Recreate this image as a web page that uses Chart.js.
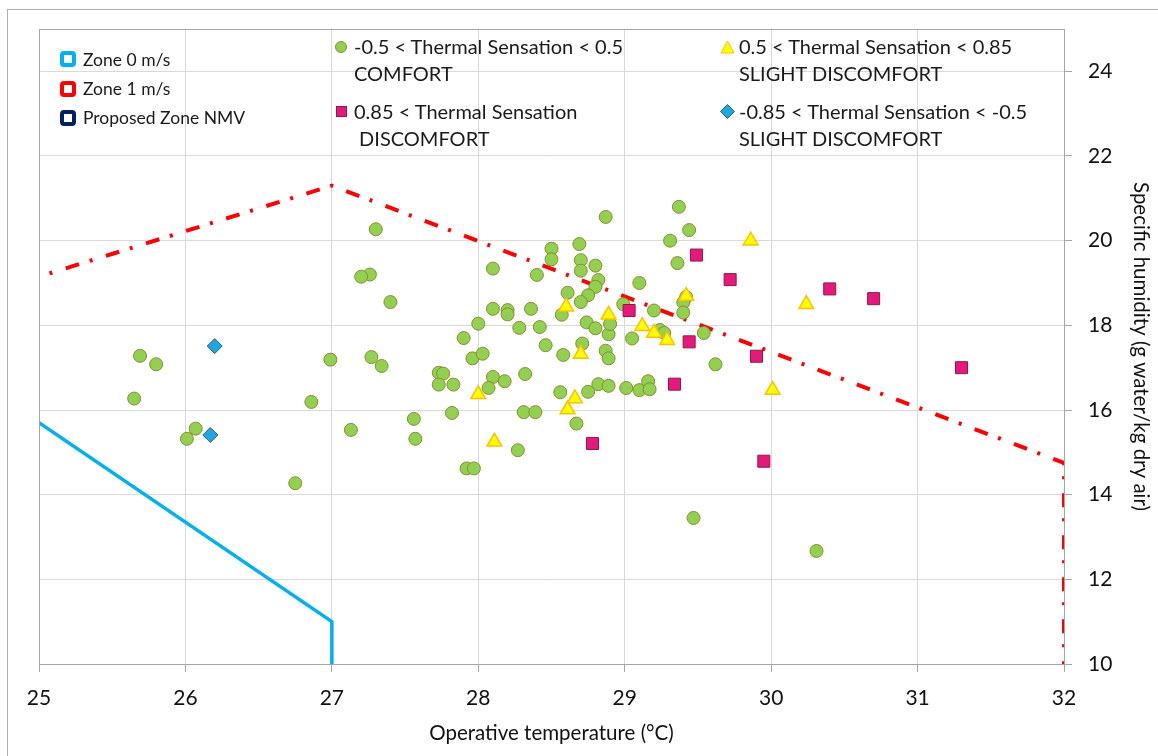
<!DOCTYPE html>
<html>
<head>
<meta charset="utf-8">
<script src="https://cdn.jsdelivr.net/npm/chart.js@4.4.0/dist/chart.umd.min.js"></script>
<style>
  html, body { margin: 0; padding: 0; background: #fff; }
  #wrap { position: relative; width: 1158px; height: 756px; overflow: hidden;
          font-family: Lato, "Open Sans", sans-serif; color: #1a1a1a; }
  #chart { position: absolute; left: 0; top: 0; }
  .lg { position: absolute; white-space: pre; line-height: 1.2; }
  .zone { font-size: 17.5px; }
  .ser { font-size: 20px; }
  .mk { position: absolute; }
</style>
</head>
<body>
<div id="wrap">
  <canvas id="chart" width="1158" height="756"></canvas>

  <!-- zone legend -->
  <svg class="mk" style="left:60px;top:51px" width="16" height="16"><rect x="2" y="2" width="12" height="12" rx="2" fill="#fff" stroke="#00B0F0" stroke-width="4"/></svg>
  <div class="lg zone" style="left:83px;top:49px">Zone 0 m/s</div>
  <svg class="mk" style="left:60px;top:81px" width="16" height="16"><rect x="2" y="2" width="12" height="12" rx="2" fill="#fff" stroke="#FF0000" stroke-width="4"/></svg>
  <div class="lg zone" style="left:83px;top:78px">Zone 1 m/s</div>
  <svg class="mk" style="left:60px;top:110px" width="16" height="16"><rect x="2" y="2" width="12" height="12" rx="2" fill="#fff" stroke="#002060" stroke-width="4"/></svg>
  <div class="lg zone" style="left:83px;top:107px">Proposed Zone NMV</div>

  <!-- thermal sensation legend -->
  <svg class="mk" style="left:334px;top:40px" width="14" height="14"><circle cx="7" cy="7" r="5.5" fill="#92D050" stroke="#8A8B34" stroke-width="1"/></svg>
  <div class="lg ser" style="left:354px;top:34px">-0.5 &lt; Thermal Sensation &lt; 0.5</div>
  <div class="lg ser" style="left:354px;top:61px">COMFORT</div>
  <svg class="mk" style="left:336px;top:106px" width="12" height="12"><rect x="0.5" y="0.5" width="10" height="10" fill="#E6197A" stroke="#8B1A4A" stroke-width="1"/></svg>
  <div class="lg ser" style="left:354px;top:99px">0.85 &lt; Thermal Sensation</div>
  <div class="lg ser" style="left:354px;top:126px"> DISCOMFORT</div>

  <svg class="mk" style="left:720px;top:40px" width="15" height="14"><polygon points="7.5,1 14,13 1,13" fill="#FFFF00" stroke="#FFC000" stroke-width="1"/></svg>
  <div class="lg ser" style="left:739px;top:34px">0.5 &lt; Thermal Sensation &lt; 0.85</div>
  <div class="lg ser" style="left:739px;top:61px">SLIGHT DISCOMFORT</div>
  <svg class="mk" style="left:720px;top:104px" width="15" height="15"><polygon points="7.5,0.5 14.5,7.5 7.5,14.5 0.5,7.5" fill="#1CA8E0" stroke="#44546A" stroke-width="1"/></svg>
  <div class="lg ser" style="left:739px;top:99px">-0.85 &lt; Thermal Sensation &lt; -0.5</div>
  <div class="lg ser" style="left:739px;top:126px">SLIGHT DISCOMFORT</div>
</div>

<script>
// axis ticks
const xTickValues = [25, 26, 27, 28, 29, 30, 31, 32];
const yTickValues = [10, 12, 14, 16, 18, 20, 22, 24];

// comfort zone boundaries
const zone0X = [25, 27, 27];
const zone0Y = [15.7, 11.0, 10.0];
const zone1X = [25, 27, 32, 32];
const zone1Y = [19.15, 21.3, 14.75, 10.0];

// -0.5 < TS < 0.5  (comfort)
const comfortX = [27.30, 27.26, 27.20, 27.40, 25.69, 25.80, 25.65, 26.99, 27.27, 27.34,
  26.86, 26.07, 26.01, 27.13, 26.75, 28.87, 28.50, 28.50, 28.69, 28.70,
  28.70, 28.80, 28.10, 28.40, 28.82, 28.80, 28.75, 28.61, 28.70, 28.57,
  28.99, 29.10, 29.20, 28.10, 28.20, 28.20, 28.36, 28.00, 28.28, 28.42,
  28.74, 28.80, 28.89, 28.90, 27.90, 28.46, 28.71, 28.58, 28.87, 28.89,
  29.05, 27.96, 28.03, 27.73, 27.76, 27.73, 27.83, 28.10, 28.07, 28.18,
  28.32, 28.56, 28.75, 28.82, 28.89, 29.01, 29.10, 29.16, 29.17, 27.82,
  28.31, 28.39, 28.67, 27.56, 27.57, 28.27, 27.92, 27.97, 29.37, 29.44,
  29.31, 29.36, 29.42, 29.40, 29.40, 29.24, 29.27, 29.54, 29.62, 29.47, 30.31];
const comfortY = [20.27, 19.20, 19.15, 18.55, 17.28, 17.08, 16.27, 17.19, 17.25, 17.04,
  16.19, 15.56, 15.32, 15.53, 14.27, 20.56, 19.81, 19.56, 19.92, 19.54,
  19.29, 19.41, 19.34, 19.19, 19.07, 18.91, 18.71, 18.77, 18.55, 18.25,
  18.50, 19.00, 18.35, 18.39, 18.36, 18.26, 18.39, 18.04, 17.94, 17.96,
  18.07, 17.93, 17.79, 18.03, 17.70, 17.53, 17.57, 17.30, 17.40, 17.22,
  17.69, 17.22, 17.33, 16.88, 16.86, 16.60, 16.60, 16.78, 16.52, 16.68,
  16.85, 16.42, 16.43, 16.61, 16.57, 16.52, 16.47, 16.68, 16.49, 15.93,
  15.95, 15.95, 15.68, 15.79, 15.32, 15.05, 14.62, 14.62, 20.80, 20.25,
  20.00, 19.47, 18.67, 18.54, 18.30, 17.89, 17.82, 17.82, 17.08, 13.45, 12.67];

// 0.5 < TS < 0.85  (slight discomfort, warm)
const slightWarmX = [28.60, 28.89, 29.12, 29.20, 29.29, 28.70, 28.00, 28.66, 28.61, 28.11,
  29.86, 29.42, 30.24, 30.01];
const slightWarmY = [18.44, 18.25, 17.98, 17.82, 17.65, 17.32, 16.37, 16.27, 16.01, 15.25,
  20.00, 18.69, 18.50, 16.47];

// 0.85 < TS  (discomfort)
const discomfortX = [29.03, 28.78, 29.49, 29.72, 30.40, 30.70, 29.44, 29.90, 29.34, 29.95, 31.30];
const discomfortY = [18.35, 15.21, 19.66, 19.08, 18.86, 18.63, 17.61, 17.27, 16.61, 14.79, 17.00];

// -0.85 < TS < -0.5  (slight discomfort, cool)
const slightCoolX = [26.20, 26.17];
const slightCoolY = [17.51, 15.41];

const pts = (xs, ys) => xs.map((x, i) => ({ x, y: ys[i] }));

const FONT = 'Lato, "Open Sans", sans-serif';

// gray frame around the plot area and the whole figure
const framePlugin = {
  id: 'frame',
  beforeDraw(chart) {
    const c = chart.ctx;
    c.save();
    c.strokeStyle = '#B0B0B0';
    c.lineWidth = 1;
    c.strokeRect(7.5, 9.5, 1160, 760);
    c.restore();
  },
  afterDraw(chart) {
    const a = chart.chartArea, c = chart.ctx;
    c.save();
    c.strokeStyle = '#A6A6A6';
    c.lineWidth = 1;
    c.strokeRect(Math.round(a.left) + 0.5, Math.round(a.top) + 0.5,
                 Math.round(a.right - a.left), Math.round(a.bottom - a.top));
    c.restore();
  }
};

new Chart(document.getElementById('chart'), {
  type: 'scatter',
  data: {
    datasets: [
      { label: 'Zone 0 m/s', type: 'line', data: pts(zone0X, zone0Y),
        borderColor: '#00B0F0', borderWidth: 3.5, pointRadius: 0, fill: false,
        tension: 0, order: 10 },
      { label: 'Zone 1 m/s', type: 'line', data: pts(zone1X, zone1Y),
        borderColor: '#FF0000', borderWidth: 4, pointRadius: 0, fill: false,
        borderDash: [14, 11, 3, 14], borderDashOffset: 14, tension: 0, order: 9 },
      { label: 'comfort', data: pts(comfortX, comfortY),
        pointStyle: 'circle', pointRadius: 6.5, pointBackgroundColor: '#92D050',
        pointBorderColor: '#8A8B34', pointBorderWidth: 1, order: 4 },
      { label: 'slight cool', data: pts(slightCoolX, slightCoolY),
        pointStyle: 'rectRot', pointRadius: 7.5, pointBackgroundColor: '#1CA8E0',
        pointBorderColor: '#44546A', pointBorderWidth: 1, order: 3 },
      { label: 'slight warm', data: pts(slightWarmX, slightWarmY),
        pointStyle: 'triangle', pointRadius: 8.5, pointBackgroundColor: '#FFFF00',
        pointBorderColor: '#FFC000', pointBorderWidth: 1.5, order: 2 },
      { label: 'discomfort', data: pts(discomfortX, discomfortY),
        pointStyle: 'rect', pointRadius: 8.5, pointBackgroundColor: '#E6197A',
        pointBorderColor: '#8B1A4A', pointBorderWidth: 1, order: 1 }
    ]
  },
  options: {
    responsive: false,
    animation: false,
    layout: { padding: { left: 39, top: 29, right: 0, bottom: 0 } },
    plugins: { legend: { display: false }, tooltip: { enabled: false } },
    scales: {
      x: {
        type: 'linear', min: 25, max: 32,
        afterBuildTicks: s => { s.ticks = xTickValues.map(v => ({ value: v })); },
        afterFit: s => { s.height = 92; },
        ticks: { color: '#111', font: { family: FONT, size: 21 }, padding: 14 },
        grid: { color: '#D9D9D9', tickColor: '#A6A6A6', tickLength: 8 },
        border: { color: '#A6A6A6' },
        title: { display: true, text: 'Operative temperature (°C)', color: '#111',
                 font: { family: FONT, size: 20.5 }, padding: { top: 0, bottom: 10 } }
      },
      y: {
        type: 'linear', position: 'right', min: 10, max: 25,
        afterBuildTicks: s => { s.ticks = yTickValues.map(v => ({ value: v })); },
        afterFit: s => { s.width = 94; },
        ticks: { color: '#111', font: { family: FONT, size: 21 }, padding: 16 },
        grid: { color: '#D9D9D9', tickColor: '#A6A6A6', tickLength: 8 },
        border: { color: '#A6A6A6' },
        title: { display: true, text: 'Specific humidity (g water/kg dry air)', color: '#111',
                 font: { family: FONT, size: 20.5 }, padding: { top: 5, bottom: 0 } }
      }
    }
  },
  plugins: [framePlugin]
});
</script>
</body>
</html>
